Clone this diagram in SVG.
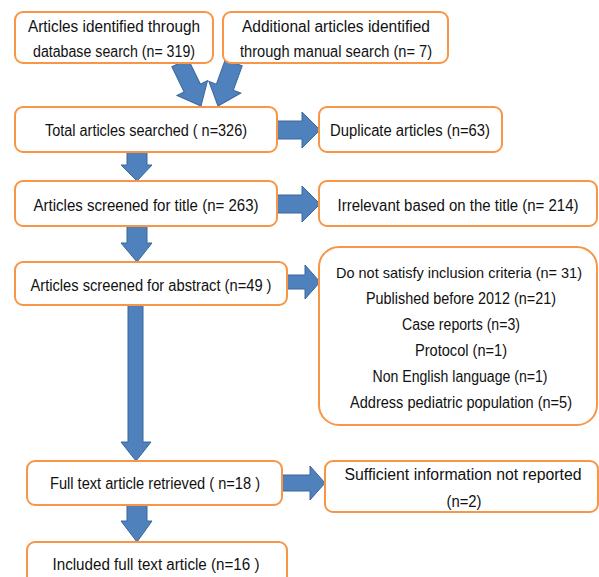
<svg xmlns="http://www.w3.org/2000/svg" width="599" height="577" viewBox="0 0 599 577">
<style>
.box{fill:#fff;stroke:#f79646;stroke-width:2}
.arr{fill:#4f81bd;stroke:#3a679c;stroke-width:1}
text{font-family:"Liberation Sans",Arial,sans-serif;font-size:16px;fill:#111;text-anchor:middle}
</style>
<rect width="599" height="577" fill="#fff"/>
<g id="connectors">
<polygon class="arr" transform="translate(201,106) rotate(-26)" points="-9,-48 9,-48 9,-20 17,-20 0,0 -17,-20 -9,-20"/>
<polygon class="arr" transform="translate(218,106) rotate(20)" points="-9,-46 9,-46 9,-20 17,-20 0,0 -17,-20 -9,-20"/>
<polygon class="arr" points="127,152 147,152 147,165 152,165 137,181 121,165 127,165"/>
<polygon class="arr" points="127,226 147,226 147,243 152,243 137,262 121,243 127,243"/>
<polygon class="arr" points="128,305 143,305 143,442 151,442 136,461 121,442 128,442"/>
<polygon class="arr" points="127,505 147,505 147,521 152,521 137,542 121,521 127,521"/>
<polygon class="arr" points="277,121 302,121 302,112 320,130 302,148 302,139 277,139"/>
<polygon class="arr" points="277,195 302,195 302,186 320,204 302,222 302,213 277,213"/>
<polygon class="arr" points="287,275 305,275 305,265 320,282 305,299 305,289 287,289"/>
<polygon class="arr" points="282,475 310,475 310,466 325,483 310,500 310,491 282,491"/>
</g>
<g id="n1"><rect class="box" x="15" y="12" width="198" height="51" rx="8"/>
<text x="114" y="32" textLength="172" lengthAdjust="spacingAndGlyphs">Articles identified through</text>
<text x="114" y="57" textLength="162" lengthAdjust="spacingAndGlyphs">database search (n= 319)</text></g>
<g id="n2"><rect class="box" x="223" y="12" width="225" height="51" rx="8"/>
<text x="336" y="32" textLength="188" lengthAdjust="spacingAndGlyphs">Additional articles identified</text>
<text x="336" y="57" textLength="192" lengthAdjust="spacingAndGlyphs">through manual search (n= 7)</text></g>
<g id="n3"><rect class="box" x="15" y="107" width="262" height="45" rx="8"/>
<text x="146" y="136" textLength="202" lengthAdjust="spacingAndGlyphs">Total articles searched ( n=326)</text></g>
<g id="n4"><rect class="box" x="319" y="107" width="183" height="45" rx="8"/>
<text x="410" y="136" textLength="160" lengthAdjust="spacingAndGlyphs">Duplicate articles (n=63)</text></g>
<g id="n5"><rect class="box" x="15" y="181" width="262" height="45" rx="8"/>
<text x="146" y="211" textLength="225" lengthAdjust="spacingAndGlyphs">Articles screened for title (n= 263)</text></g>
<g id="n6"><rect class="box" x="319" y="181" width="278" height="45" rx="8"/>
<text x="458" y="211" textLength="241" lengthAdjust="spacingAndGlyphs">Irrelevant based on the title (n= 214)</text></g>
<g id="n7"><rect class="box" x="15" y="262" width="272" height="43" rx="8"/>
<text x="151" y="291" textLength="241" lengthAdjust="spacingAndGlyphs">Articles screened for abstract (n=49 )</text></g>
<g id="n8"><rect class="box" x="319" y="247" width="278" height="178" rx="20"/>
<text x="459" y="278" textLength="246" lengthAdjust="spacingAndGlyphs" fill="#000" style="font-size:14.5px">Do not satisfy inclusion criteria (n= 31)</text>
<text x="461" y="304" textLength="190" lengthAdjust="spacingAndGlyphs">Published before 2012 (n=21)</text>
<text x="461" y="330" textLength="118" lengthAdjust="spacingAndGlyphs">Case reports (n=3)</text>
<text x="461" y="356" textLength="92" lengthAdjust="spacingAndGlyphs">Protocol (n=1)</text>
<text x="460" y="382" textLength="175" lengthAdjust="spacingAndGlyphs">Non English language (n=1)</text>
<text x="461" y="408" textLength="222" lengthAdjust="spacingAndGlyphs">Address pediatric population (n=5)</text></g>
<g id="n9"><rect class="box" x="27" y="461" width="255" height="44" rx="8"/>
<text x="155" y="489" textLength="210" lengthAdjust="spacingAndGlyphs">Full text article retrieved ( n=18 )</text></g>
<g id="n10"><rect class="box" x="325" y="461" width="273" height="51" rx="8"/>
<text x="463" y="480" textLength="237" lengthAdjust="spacingAndGlyphs">Sufficient information not  reported</text>
<text x="464" y="507" textLength="35" lengthAdjust="spacingAndGlyphs">(n=2)</text></g>
<g id="n11"><rect class="box" x="27" y="542" width="260" height="50" rx="8"/>
<text x="156" y="570" textLength="207" lengthAdjust="spacingAndGlyphs">Included full text article (n=16 )</text></g>
</svg>
